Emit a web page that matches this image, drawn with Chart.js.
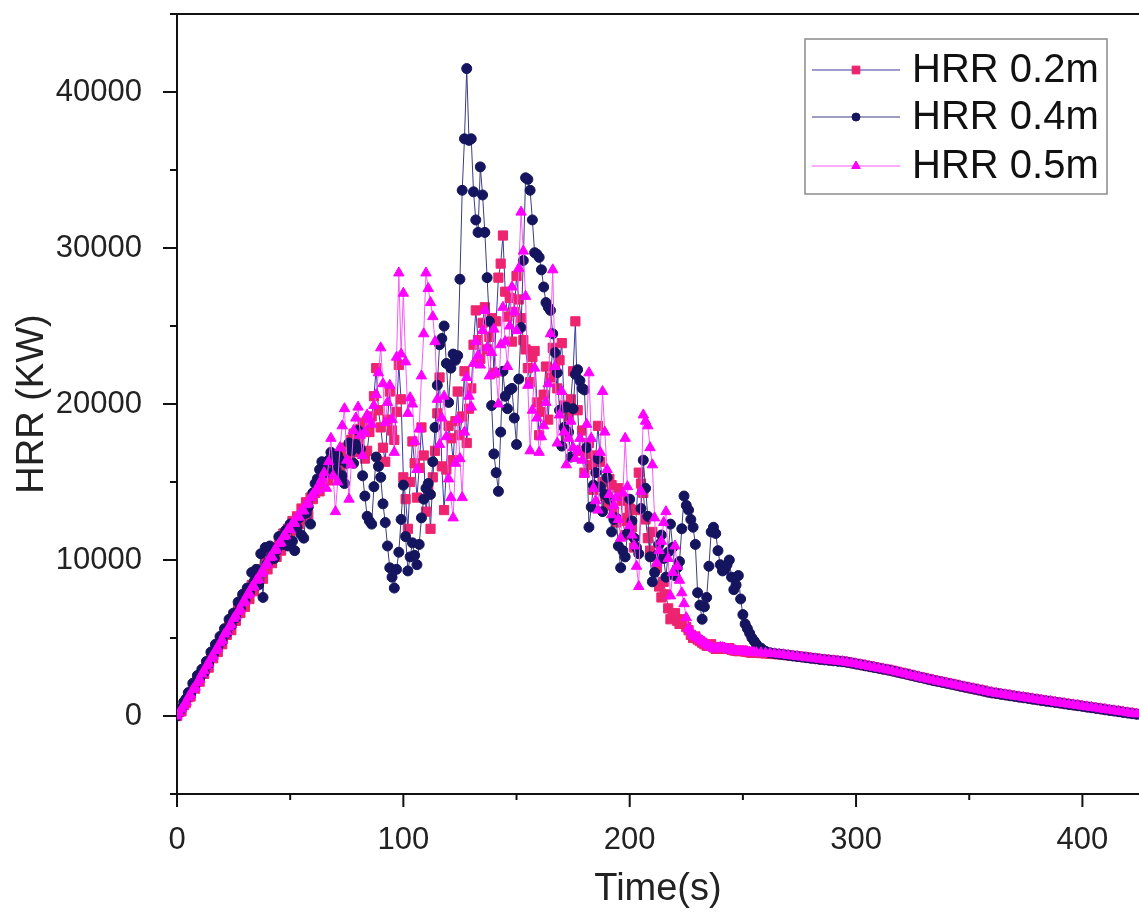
<!DOCTYPE html>
<html>
<head>
<meta charset="utf-8">
<script src="https://cdn.jsdelivr.net/npm/chart.js@4.4.1/dist/chart.umd.min.js"></script>
<style>
  html, body { margin: 0; padding: 0; background: #fff; }
  #wrap { width: 1139px; height: 915px; }
</style>
</head>
<body>
<div id="wrap"><canvas id="hrrChart" width="1139" height="915"></canvas></div>
<script>
// sample times (s): every second while burning, every 2 s in the decay
const times = [];
for (let t = 0; t <= 256; t += 1) times.push(t);
for (let t = 258; t <= 424; t += 2) times.push(t);

// HRR (KW), 0..256 s
const hrr02Fire = [
  0, 250, 300, 700, 850, 1200, 1250, 1800, 1750, 2300, 2200, 2800, 2700, 3300, 3100, 3800, 3700, 4300, 4100, 4800,
  4600, 5400, 5200, 5800, 5500, 6500, 6100, 6900, 6600, 7500, 7000, 7900, 7500, 8400, 8000, 9000, 8600, 9400, 8800, 9900,
  9400, 10300, 9800, 10800, 10200, 11200, 10600, 11700, 11100, 12000, 11500, 12500, 11900, 12800, 12300, 13300, 12600, 13700, 12900, 14000,
  13900, 14300, 14600, 14400, 14900, 15300, 15500, 15100, 15800, 16200, 16400, 15400, 16000, 16900, 17200, 16300, 16600, 17700, 18100, 16900,
  17500, 18400, 18800, 16500, 17000, 18200, 19200, 20500, 22300, 19600, 18500, 17200, 16300, 19000, 20800, 18300, 17700, 19500, 22500, 20300,
  15300, 13900, 12000, 15000, 17600, 16200, 14000, 15900, 18500, 16700, 13100, 14500, 12000, 15300, 17000, 19400, 21700, 16000, 13200, 15800,
  18600, 17800, 16400, 18900, 20800, 18000, 19200, 22100, 17500, 19700, 21000, 23800, 26000, 24100, 22900, 25200, 26200, 23500, 24300, 25500,
  22000, 25300, 28100, 29000, 30800, 27200, 25600, 26800, 24000, 25900, 28200, 26700, 25500, 24100, 23500, 22300, 21400, 23000, 23400, 20100,
  18000, 19500, 20600, 22400, 19000, 21700, 23600, 22200, 21000, 22800, 23900, 19900, 18000, 19200, 20300, 22100, 25300, 19600, 17000, 18300,
  15600, 16800, 17500, 16100, 14500, 16700, 18600, 16300, 15000, 14100, 13500, 15200, 14800, 13000, 12400, 14600, 13800, 12500, 11600, 12700,
  13300, 12100, 10800, 13200, 15600, 14900, 14300, 12600, 11400, 10600, 11800, 10200, 9500, 8300, 7600, 8600, 7800, 6900, 6200, 6500,
  6600, 6100, 5900, 6200, 6000, 5700, 5500, 5200, 5000, 5100, 4900, 4800, 4700, 4600, 4500, 4550, 4600, 4400, 4300, 4350,
  4400, 4350, 4300, 4320, 4350, 4250, 4200, 4180, 4150, 4170, 4200, 4130, 4100, 4080, 4050, 4060, 4050
];
// 258..424 s
const hrr02Decay = [
  4030, 4010, 3990, 3970, 3950, 3920, 3890, 3860, 3830, 3800,
  3760, 3720, 3690, 3650, 3620, 3590, 3560, 3530, 3500, 3460,
  3410, 3350, 3300, 3240, 3190, 3130, 3080, 3020, 2970, 2910,
  2840, 2770, 2710, 2640, 2570, 2500, 2440, 2370, 2300, 2240,
  2180, 2120, 2060, 2000, 1930, 1870, 1810, 1750, 1690, 1630,
  1560, 1500, 1460, 1410, 1370, 1320, 1280, 1230, 1190, 1150,
  1100, 1060, 1010, 970, 930, 890, 850, 800, 760, 720,
  680, 640, 590, 550, 510, 470, 420, 380, 340, 300,
  250, 210, 170, 130
];

const hrr04Fire = [
  0, 300, 500, 900, 1100, 1500, 1400, 2100, 2000, 2600, 2400, 3000, 2800, 3500, 3300, 4100, 3900, 4600, 4400, 5100,
  4800, 5600, 5300, 6200, 5800, 6600, 6300, 7300, 6900, 7800, 7400, 8200, 7900, 9200, 8600, 9400, 8400, 10400, 7600, 10800,
  9800, 10900, 10300, 10100, 10600, 11500, 11200, 11000, 11900, 10900, 12300, 11200, 10600, 12100, 12700, 11600, 11400, 13000, 13400, 12300,
  14300, 14900, 15200, 15800, 16300, 16000, 15600, 16400, 16900, 16300, 15800, 16700, 16400, 15400, 14900, 16200, 17500, 17000, 16200, 17400,
  18300, 17100, 15400, 14100, 12800, 12500, 12300, 14700, 16600, 16000, 15300, 13600, 12400, 10900, 9500, 8900, 8200, 9400, 10500, 12600,
  14800, 11500, 9300, 10200, 11100, 10300, 9700, 11000, 12700, 13900, 14600, 14900, 14200, 16300, 18500, 21200, 23800, 24200, 25000, 22600,
  20100, 22300, 23200, 22800, 23100, 28000, 33700, 37000, 41500, 36900, 37000, 33600, 31800, 31000, 35200, 33400, 31000, 28100, 25300, 19900,
  16800, 15600, 14400, 18200, 22100, 20500, 19700, 20900, 21000, 19100, 17400, 21600, 24900, 29200, 34500, 34400, 33700, 31800, 29700, 29600,
  29400, 28600, 27500, 26500, 26200, 26000, 24500, 23300, 22000, 19600, 17300, 18500, 19800, 18200, 16600, 19700, 21900, 22200, 21500, 21000,
  20900, 17200, 12100, 13400, 14800, 15600, 16500, 14700, 13100, 14200, 15300, 13900, 11800, 12600, 12700, 10900, 9500, 10600, 10200, 11700,
  13900, 12500, 11400, 10800, 10400, 13300, 16400, 14600, 12800, 10200, 8600, 9200, 10300, 11000, 11600, 10100, 8900, 10500, 12300, 10800,
  9000, 9500, 9900, 12000, 14100, 13500, 13200, 12600, 12100, 11000, 7900, 7100, 6200, 7000, 7600, 9600, 11800, 12100, 11700, 10600,
  9700, 9300, 9400, 9700, 10000, 8900, 8100, 8400, 9000, 7500, 6500, 5900, 5600, 5300, 5000, 4800, 4600
];
const hrr04Decay = [
  4350, 4150, 4050, 4000, 3970, 3930, 3890, 3850, 3810, 3780,
  3740, 3700, 3670, 3630, 3600, 3570, 3540, 3510, 3480, 3440,
  3390, 3330, 3280, 3220, 3170, 3110, 3060, 3000, 2950, 2890,
  2820, 2750, 2690, 2620, 2550, 2480, 2420, 2350, 2280, 2220,
  2160, 2100, 2040, 1980, 1910, 1850, 1790, 1730, 1670, 1610,
  1540, 1480, 1440, 1390, 1350, 1300, 1260, 1210, 1170, 1130,
  1080, 1040, 990, 950, 910, 870, 830, 780, 740, 700,
  660, 620, 570, 530, 490, 450, 400, 360, 320, 280,
  230, 190, 150, 110
];

const hrr05Fire = [
  0, 200, 450, 650, 900, 1200, 1350, 1700, 1850, 2150, 2350, 2700, 2900, 3200, 3350, 3700, 3850, 4200, 4350, 4700,
  4850, 5250, 5400, 5700, 5850, 6250, 6400, 6700, 6850, 7250, 7350, 7750, 7850, 8250, 8300, 8700, 8750, 9150, 9250, 9650,
  9750, 10150, 10200, 10600, 10650, 11050, 11100, 11500, 11550, 11950, 11950, 12350, 12350, 12750, 12750, 13150, 13150, 13550, 13600, 14000,
  14200, 14400, 14500, 14900, 15200, 15600, 14600, 16300, 17800, 15400, 13100, 15000, 17200, 18600, 19700, 16400, 13900, 16100, 18300, 19100,
  19800, 18000, 16700, 18200, 19300, 19000, 18700, 19900, 20600, 22000, 23600, 21300, 18800, 20100, 21200, 19000, 16900, 23000, 28400, 23200,
  27100, 22700, 19400, 20400, 20000, 17600, 15800, 18400, 21800, 24500, 28400, 27400, 26500, 25600, 24000, 20300, 17400, 19100, 20500, 17900,
  15200, 14000, 12700, 16200, 19000, 16500, 14000, 18200, 21700, 20500, 19800, 22600, 24000, 23100, 22500, 24700, 26000, 23600, 21800, 23300,
  24800, 22000, 20000, 23800, 26200, 24000, 22400, 25000, 27500, 25900, 24700, 28700, 32300, 29800, 26900, 21200, 17000, 19600, 22300, 19100,
  16900, 17900, 18600, 20100, 21300, 24500, 28600, 22400, 17500, 19300, 20800, 18200, 16100, 17800, 18900, 17200, 16500, 17000, 17800, 16400,
  15500, 18700, 22000, 17800, 14600, 13800, 13200, 16900, 20800, 18200, 15800, 14200, 12900, 13500, 14000, 12600, 11400, 14300, 17800, 14700,
  12200, 11600, 10900, 9600, 8300, 14400, 19300, 18900, 18600, 17200, 16100, 12700, 9800, 10600, 11200, 12400, 13100, 10100, 7700, 9200,
  10900, 9600, 8700, 7900, 7200, 6300, 5600, 5400, 5200, 5100, 5000, 4900, 4800, 4700, 4600, 4500, 4400, 4350, 4300, 4350,
  4400, 4380, 4350, 4300, 4250, 4220, 4200, 4170, 4150, 4150, 4150, 4120, 4100, 4090, 4080, 4070, 4060
];
const hrr05Decay = [
  4050, 4030, 4010, 3990, 3960, 3930, 3890, 3850, 3820, 3780,
  3740, 3710, 3670, 3640, 3600, 3570, 3540, 3510, 3480, 3440,
  3390, 3340, 3280, 3230, 3170, 3120, 3060, 3010, 2950, 2890,
  2820, 2760, 2690, 2620, 2560, 2490, 2420, 2360, 2300, 2230,
  2170, 2110, 2050, 1980, 1920, 1860, 1800, 1740, 1680, 1620,
  1560, 1500, 1450, 1410, 1360, 1320, 1270, 1230, 1180, 1140,
  1100, 1050, 1010, 970, 930, 880, 840, 800, 760, 720,
  680, 630, 590, 550, 510, 460, 420, 380, 340, 300,
  260, 210, 170, 130
];

const seriesLabels = ["HRR 0.2m", "HRR 0.4m", "HRR 0.5m"];
const xMajorTicks = [0, 100, 200, 300, 400];
const xAllTicks = [0, 50, 100, 150, 200, 250, 300, 350, 400];
const yMajorTicks = [0, 10000, 20000, 30000, 40000];
const yAllTicks = [-5000, 0, 5000, 10000, 15000, 20000, 25000, 30000, 35000, 40000, 45000];

const FONT = "'Liberation Sans', Arial, sans-serif";
const styles = [
  { line: "#3a3aa0", point: "#ee2470", shape: "rect", radius: 6.5 },
  { line: "#3d3d7c", point: "#15155f", shape: "circle", radius: 5 },
  { line: "#f45cf4", point: "#ff00ff", shape: "triangle", radius: 6 },
];

function toXY(values) {
  return values.map((v, i) => ({ x: times[i], y: v }));
}

const allSeries = [
  hrr02Fire.concat(hrr02Decay),
  hrr04Fire.concat(hrr04Decay),
  hrr05Fire.concat(hrr05Decay),
];
const datasets = allSeries.map((vals, i) => ({
  label: seriesLabels[i],
  data: toXY(vals),
  borderColor: styles[i].line,
  borderWidth: 1,
  backgroundColor: styles[i].point,
  pointStyle: styles[i].shape,
  pointRadius: styles[i].radius,
  pointBackgroundColor: styles[i].point,
  pointBorderColor: styles[i].point,
  pointBorderWidth: 1,
  tension: 0,
  order: 3 - i, // 0.5m drawn on top
}));

// ticks, top frame line and the boxed legend
const framePlugin = {
  id: "framePlugin",
  afterDraw(chart) {
    const { ctx, chartArea, scales } = chart;
    ctx.save();
    ctx.strokeStyle = "#111";
    ctx.lineWidth = 2;
    ctx.beginPath();
    ctx.moveTo(chartArea.left - 1, chartArea.top);
    ctx.lineTo(chartArea.right, chartArea.top);
    ctx.stroke();

    xAllTicks.forEach((v) => {
      const x = scales.x.getPixelForValue(v);
      const len = v % 100 === 0 ? 13 : 6;
      ctx.beginPath();
      ctx.moveTo(x, chartArea.bottom);
      ctx.lineTo(x, chartArea.bottom + len);
      ctx.stroke();
    });
    yAllTicks.forEach((v) => {
      const y = scales.y.getPixelForValue(v);
      const len = v % 10000 === 0 ? 14 : 7;
      ctx.beginPath();
      ctx.moveTo(chartArea.left, y);
      ctx.lineTo(chartArea.left - len, y);
      ctx.stroke();
    });

    // legend box
    const box = { x: 805, y: 39, w: 302, h: 155 };
    ctx.lineWidth = 1.5;
    ctx.strokeStyle = "#8a8a8a";
    ctx.strokeRect(box.x, box.y, box.w, box.h);
    const rows = [70, 117, 166];
    ctx.font = "40px " + FONT;
    ctx.textBaseline = "middle";
    ctx.textAlign = "left";
    rows.forEach((ry, i) => {
      ctx.strokeStyle = styles[i].line;
      ctx.lineWidth = 1.2;
      ctx.beginPath();
      ctx.moveTo(812, ry);
      ctx.lineTo(900, ry);
      ctx.stroke();
      ctx.fillStyle = styles[i].point;
      ctx.strokeStyle = styles[i].point;
      ctx.lineWidth = 1;
      Chart.helpers.drawPoint(ctx, {
        pointStyle: styles[i].shape,
        radius: styles[i].radius - 1,
        rotation: 0,
        borderWidth: 1,
      }, 856, ry);
      ctx.fillStyle = "#111";
      ctx.fillText(seriesLabels[i], 912, ry + 1);
    });
    ctx.restore();
  },
};

new Chart(document.getElementById("hrrChart"), {
  type: "line",
  data: { datasets },
  options: {
    responsive: false,
    animation: false,
    layout: { autoPadding: false, padding: { top: 14, right: 0, bottom: 0, left: 0 } },
    plugins: { legend: { display: false }, tooltip: { enabled: false } },
    scales: {
      x: {
        type: "linear",
        min: 0,
        max: 425,
        grid: { display: false },
        border: { display: true, color: "#111", width: 2 },
        afterBuildTicks: (scale) => {
          scale.ticks = xMajorTicks.map((v) => ({ value: v }));
        },
        afterFit: (scale) => {
          scale.height = 121;
          scale.paddingLeft = 0;
          scale.paddingRight = 0;
        },
        ticks: {
          padding: 20,
          color: "#222",
          font: { family: FONT, size: 31 },
          maxRotation: 0,
          callback: (v) => String(v),
        },
        title: {
          display: true,
          text: "Time(s)",
          color: "#222",
          font: { family: FONT, size: 38 },
          padding: { top: 0, bottom: 3 },
        },
      },
      y: {
        type: "linear",
        min: -5000,
        max: 45000,
        grid: { display: false },
        border: { display: true, color: "#111", width: 2 },
        afterBuildTicks: (scale) => {
          scale.ticks = yMajorTicks.map((v) => ({ value: v }));
        },
        afterFit: (scale) => {
          scale.width = 177;
          scale.paddingTop = 0;
          scale.paddingBottom = 0;
        },
        ticks: {
          padding: 27,
          color: "#222",
          font: { family: FONT, size: 31 },
          callback: (v) => String(v),
        },
        title: {
          display: true,
          text: "HRR (KW)",
          color: "#222",
          font: { family: FONT, size: 38 },
          padding: { top: 10, bottom: 0 },
        },
      },
    },
  },
  plugins: [framePlugin],
});
</script>
</body>
</html>
